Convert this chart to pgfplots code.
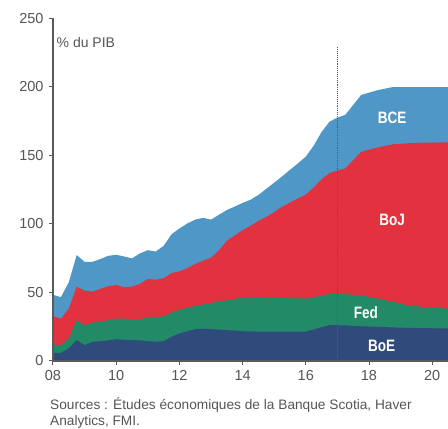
\documentclass[border=0pt]{standalone}
\usepackage{pgfplots}
\pgfplotsset{compat=1.18}
\usepackage{pgfplotstable}
\usepackage{fontspec}
\setmainfont{Liberation Sans}
\newfontfamily\narrowbold{Liberation Sans Bold}[FakeStretch=0.82]
\definecolor{bce}{HTML}{4F97C6}
\definecolor{boj}{HTML}{E3323F}
\definecolor{fed}{HTML}{238A67}
\definecolor{boe}{HTML}{2F4B7C}
\definecolor{axgray}{HTML}{5A5A5A}
\definecolor{txtgray}{HTML}{555555}

% cumulative (stacked) levels, % of GDP
\pgfplotstableread{
t     boe   fed   boj    bce
8.0   5.8   11.9  32.6   48.1
8.25  5.8   11.4  30.7   46.4
8.5   9.0   16.2  38.0   57.3
8.75  15.0  29.5  54.1   77.1
9.0   11.4  25.9  51.2   72.2
9.25  13.8  27.8  50.5   72.2
9.5   14.3  28.8  52.5   74.2
9.75  14.8  29.5  54.3   76.6
10.0  15.7  30.7  55.3   77.3
10.25 15.2  30.7  53.6   76.1
10.5  15.0  30.0  54.1   74.7
10.75 14.8  30.2  56.0   78.3
11.0  14.3  31.4  59.7   80.7
11.25 13.8  31.9  59.2   79.7
11.5  14.3  32.4  60.2   83.8
11.75 17.4  35.0  64.0   92.3
12.0  19.9  37.2  65.2   96.5
12.25 21.5  38.6  67.6   100.2
12.5  23.0  40.2  70.6   103.0
12.75 23.3  41.0  73.0   104.3
13.0  23.0  42.0  75.2   103.0
13.25 22.7  43.3  80.5   106.5
13.5  22.3  44.0  87.5   110.0
13.75 22.0  45.0  91.5   112.5
14.0  21.5  46.4  95.2   115.2
14.25 21.4  46.4  98.5   117.5
14.5  21.3  46.4  102.0  121.0
14.75 21.3  46.2  105.0  125.5
15.0  21.3  46.0  108.5  130.0
15.25 21.3  45.9  112.5  134.5
15.5  21.3  45.7  115.5  139.4
15.75 21.3  45.5  118.5  144.0
16.0  21.3  45.4  121.3  149.0
16.25 22.8  46.4  126.5  157.0
16.5  24.5  47.6  132.5  167.0
16.75 25.9  48.8  137.0  174.5
17.0  25.9  48.8  138.8  177.5
17.25 25.8  48.6  140.4  179.5
17.75 25.1  47.6  152.5  194.0
18.25 24.8  45.5  155.6  197.4
18.75 24.3  43.0  158.0  199.8
19.25 24.0  40.4  158.8  199.8
19.75 23.8  39.2  159.2  199.8
20.5  23.5  38.0  159.4  199.8
}\data

\begin{document}
\begin{tikzpicture}
\path[use as bounding box] (-53pt,-68.3pt) rectangle (395pt,360.7pt);
\begin{axis}[
  at={(0,0)}, anchor=south west,
  scale only axis, width=395pt, height=342.4pt,
  xmin=8, xmax=20.5, ymin=0, ymax=250,
  axis x line*=bottom, axis y line*=left,
  axis line style={-, draw=axgray, line width=1.6pt},
  axis on top,
  xtick={8,10,...,20}, xticklabels={08,10,12,14,16,18,20},
  ytick={0,50,...,250},
  tick align=outside, major tick length=4pt,
  tick style={draw=axgray, line width=1pt},
  /pgf/number format/assume math mode=true,
  ticklabel style={font=\fontsize{14.5}{14.5}\selectfont, text=txtgray},
  yticklabel style={xshift=-2pt},
  xticklabel style={yshift=-2pt},
  clip=true,
]
\addplot[fill=bce, draw=none] table[x=t, y=bce]{\data} \closedcycle;
\addplot[fill=boj, draw=none] table[x=t, y=boj]{\data} \closedcycle;
\addplot[fill=fed, draw=none] table[x=t, y=fed]{\data} \closedcycle;
\addplot[fill=boe, draw=none] table[x=t, y=boe]{\data} \closedcycle;
\addplot[draw=axgray, densely dotted, line width=1.1pt] coordinates {(17,0) (17,229)};
\node[anchor=west, inner sep=0, xshift=3.5pt, font=\fontsize{14}{14}\selectfont, text=txtgray] at (axis cs:8,232.4) {\% du PIB};
\node[font=\narrowbold\fontsize{16.5}{16.5}\selectfont, text=white] at (axis cs:18.73,177) {BCE};
\node[font=\narrowbold\fontsize{16.5}{16.5}\selectfont, text=white] at (axis cs:18.73,103) {BoJ};
\node[font=\narrowbold\fontsize{16.5}{16.5}\selectfont, text=white] at (axis cs:17.9,35) {Fed};
\node[font=\narrowbold\fontsize{16.5}{16.5}\selectfont, text=white] at (axis cs:18.4,10.6) {BoE};
\end{axis}
\node[anchor=base west, inner sep=0, font=\fontsize{13.7}{13.7}\selectfont, text=txtgray] at (-3pt,-49.3pt) {Sources : Études économiques de la Banque Scotia, Haver};
\node[anchor=base west, inner sep=0, font=\fontsize{13.7}{13.7}\selectfont, text=txtgray] at (-3pt,-65pt) {Analytics, FMI.};
\end{tikzpicture}
\end{document}
